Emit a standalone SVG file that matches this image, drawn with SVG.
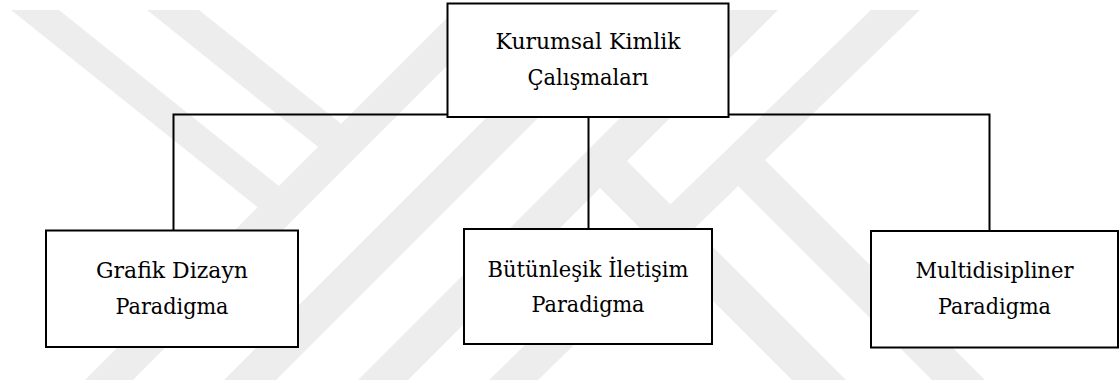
<svg xmlns="http://www.w3.org/2000/svg" width="1120" height="383" viewBox="0 0 1120 383">
  <style>
    .wm { fill: #ededed; }
    .box { fill: #ffffff; stroke: #000000; stroke-width: 2; }
    .wire { fill: none; stroke: #000000; stroke-width: 2; }
    .label { font-family: 'DejaVu Serif', 'Liberation Serif', serif; font-size: 23px; fill: #000000; text-anchor: middle; }
  </style>

  <rect width="1120" height="383" fill="#ffffff"/>

  <!-- background watermark bands -->
  <g id="watermark">
    <polygon class="wm" points="11,10 59,10 292.3,196.7 271,218"/>
    <polygon class="wm" points="147,10 199,10 354.6,134.4 331.4,157.6"/>
    <polygon class="wm" points="85,380 133,380 503,10 455,10"/>
    <polygon class="wm" points="224,380 276,380 646,10 594,10"/>
    <polygon class="wm" points="358,380 408,380 778,10 728,10"/>
    <polygon class="wm" points="489,380 538,380 920,10 871,10"/>
    <polygon class="wm" points="932,380 985,380 753,148 726,174"/>
    <polygon class="wm" points="792,380 846,380 614.5,148.5 587.5,175.5"/>
  </g>

  <!-- connectors -->
  <g id="connectors">
    <polyline class="wire" points="173.5,230 173.5,114.5 989.5,114.5 989.5,231"/>
    <line class="wire" x1="537" y1="114.5" x2="622" y2="114.5" stroke-width="3"/>
    <line class="wire" x1="588.5" y1="113" x2="588.5" y2="235"/>
  </g>

  <g id="node-kurumsal">
    <rect class="box" x="447.5" y="3.5" width="281" height="113.5"/>
    <text class="label" x="588" y="49" textLength="185" lengthAdjust="spacingAndGlyphs">Kurumsal Kimlik</text>
    <text class="label" x="588" y="85" textLength="121" lengthAdjust="spacingAndGlyphs">Çalışmaları</text>
  </g>

  <g id="node-grafik">
    <rect class="box" x="46" y="230.5" width="252" height="116.5"/>
    <text class="label" x="172" y="278" textLength="152" lengthAdjust="spacingAndGlyphs">Grafik Dizayn</text>
    <text class="label" x="172" y="314" textLength="113" lengthAdjust="spacingAndGlyphs">Paradigma</text>
  </g>

  <g id="node-butunlesik">
    <rect class="box" x="464" y="229" width="248" height="115"/>
    <text class="label" x="588" y="277" textLength="201" lengthAdjust="spacingAndGlyphs">Bütünleşik İletişim</text>
    <text class="label" x="588" y="312" textLength="113" lengthAdjust="spacingAndGlyphs">Paradigma</text>
  </g>

  <g id="node-multidisipliner">
    <rect class="box" x="871" y="231" width="247" height="116.5"/>
    <text class="label" x="994.5" y="278" textLength="158" lengthAdjust="spacingAndGlyphs">Multidisipliner</text>
    <text class="label" x="994.5" y="314" textLength="113" lengthAdjust="spacingAndGlyphs">Paradigma</text>
  </g>
</svg>
